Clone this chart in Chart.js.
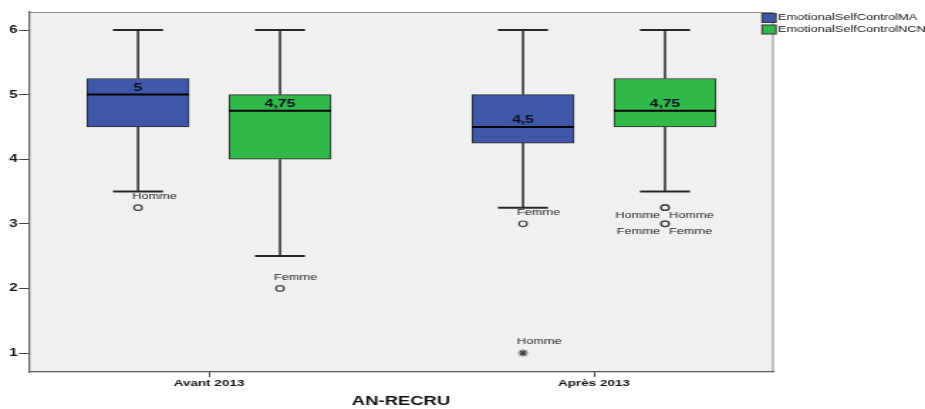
<!DOCTYPE html>
<html>
<head>
<meta charset="utf-8">
<script src="https://cdn.jsdelivr.net/npm/chart.js@4"></script>
<style>
  html, body { margin: 0; padding: 0; background: #fff; overflow: hidden; }
  /* the reference is stretched sideways, so draw narrow and stretch the canvas */
  #wrap { width: 651px; height: 409px; transform: scaleX(1.420891); transform-origin: 0 0; }
</style>
</head>
<body>
<div id="wrap"><canvas id="chart"></canvas></div>
<script>
var categories = ['Avant 2013', 'Après 2013'];
var seriesNames = ['EmotionalSelfControlMA', 'EmotionalSelfControlNCN'];
var yTicks = [1, 2, 3, 4, 5, 6];

var maMin = [3.5, 3.25];
var maQ1 = [4.5, 4.25];
var maMedian = [5, 4.5];
var maQ3 = [5.25, 5];
var maMax = [6, 6];

var ncnMin = [2.5, 3.5];
var ncnQ1 = [4, 4.5];
var ncnMedian = [4.75, 4.75];
var ncnQ3 = [5, 5.25];
var ncnMax = [6, 6];

var maOutlierCat = [0, 1, 1];
var maOutlierValue = [3.25, 3, 1];
var maOutlierLabel = ['Homme', 'Femme', 'Homme'];
var maOutlierExtreme = [false, false, true];

var ncnOutlierCat = [0, 1, 1, 1, 1];
var ncnOutlierValue = [2, 3.25, 3.25, 3, 3];
var ncnOutlierLabel = ['Femme', 'Homme', 'Homme', 'Femme', 'Femme'];
var ncnOutlierExtreme = [false, false, false, false, false];

var S = 925 / 651;
var colors = ['#3e57a8', '#31b84b'];
var offsets = [-0.1844, 0.1844];
var fontFamily = "'Liberation Sans', Arial, sans-serif";

var boxes = [
  { min: maMin, q1: maQ1, med: maMedian, q3: maQ3, max: maMax },
  { min: ncnMin, q1: ncnQ1, med: ncnMedian, q3: ncnQ3, max: ncnMax }
];
var outliers = [
  { cat: maOutlierCat, value: maOutlierValue, label: maOutlierLabel, extreme: maOutlierExtreme },
  { cat: ncnOutlierCat, value: ncnOutlierValue, label: ncnOutlierLabel, extreme: ncnOutlierExtreme }
];

var datasets = [];
boxes.forEach(function(b, s) {
  datasets.push({
    type: 'bar',
    label: seriesNames[s],
    data: categories.map(function(c, i) { return { x: i + offsets[s], y: [b.q1[i], b.q3[i]] }; }),
    backgroundColor: colors[s],
    borderColor: '#2b2b2b',
    borderWidth: 1,
    borderSkipped: false,
    barThickness: 102 / S,
    grouped: false,
    order: 2
  });
});
outliers.forEach(function(o, s) {
  datasets.push({
    type: 'scatter',
    label: seriesNames[s] + ' outliers',
    data: o.cat.map(function(c, i) { return { x: c + offsets[s], y: o.value[i] }; }),
    pointStyle: o.extreme.map(function(e) { return e ? 'star' : 'circle'; }),
    pointRadius: o.extreme.map(function(e) { return e ? 3.5 : 2.8; }),
    borderColor: '#444',
    backgroundColor: 'rgba(0,0,0,0)',
    borderWidth: 1.2,
    order: 1
  });
});

function line(ctx, x1, y1, x2, y2) {
  ctx.beginPath();
  ctx.moveTo(x1, y1);
  ctx.lineTo(x2, y2);
  ctx.stroke();
}

var boxPlotParts = {
  id: 'boxPlotParts',
  beforeDraw: function(chart) {
    var ctx = chart.ctx, a = chart.chartArea;
    ctx.save();
    ctx.fillStyle = '#f0f0f0';
    ctx.fillRect(a.left, a.top, a.right - a.left, a.bottom - a.top);
    ctx.strokeStyle = '#8c8c8c';
    ctx.lineWidth = 1;
    line(ctx, a.left, a.top + 0.5, a.right, a.top + 0.5);
    line(ctx, a.right, a.top, a.right, a.bottom);
    ctx.restore();
  },
  beforeDatasetsDraw: function(chart) {
    var ctx = chart.ctx, x = chart.scales.x, y = chart.scales.y;
    var half = 25 / S;
    ctx.save();
    ctx.strokeStyle = '#262626';
    boxes.forEach(function(b, s) {
      categories.forEach(function(c, i) {
        var cx = x.getPixelForValue(i + offsets[s]);
        var yMax = y.getPixelForValue(b.max[i]), yMin = y.getPixelForValue(b.min[i]);
        ctx.lineWidth = 1.5;
        line(ctx, cx, y.getPixelForValue(b.q3[i]), cx, yMax);
        line(ctx, cx, y.getPixelForValue(b.q1[i]), cx, yMin);
        ctx.lineWidth = 2;
        line(ctx, cx - half, yMax, cx + half, yMax);
        line(ctx, cx - half, yMin, cx + half, yMin);
      });
    });
    ctx.restore();
  },
  afterDatasetsDraw: function(chart) {
    var ctx = chart.ctx, x = chart.scales.x, y = chart.scales.y;
    var half = 51 / S;
    ctx.save();
    // medians
    boxes.forEach(function(b, s) {
      categories.forEach(function(c, i) {
        var cx = x.getPixelForValue(i + offsets[s]);
        var ym = y.getPixelForValue(b.med[i]);
        ctx.strokeStyle = '#000';
        ctx.lineWidth = 2;
        line(ctx, cx - half, ym, cx + half, ym);
        ctx.fillStyle = '#0d0d1a';
        ctx.font = 'bold 11px ' + fontFamily;
        ctx.textAlign = 'center';
        ctx.textBaseline = 'middle';
        ctx.fillText(String(b.med[i]).replace('.', ','), cx, ym - 7);
      });
    });
    // outlier labels
    ctx.font = '9px ' + fontFamily;
    ctx.fillStyle = '#1e1e1e';
    ctx.textBaseline = 'middle';
    outliers.forEach(function(o, s) {
      var seen = {};
      o.cat.forEach(function(c, i) {
        var key = c + '_' + o.value[i];
        var n = o.cat.filter(function(cc, j) { return cc === c && o.value[j] === o.value[i]; }).length;
        var k = seen[key] || 0;
        seen[key] = k + 1;
        var px = x.getPixelForValue(c + offsets[s]);
        var py = y.getPixelForValue(o.value[i]);
        if (n === 1) {
          ctx.textAlign = 'left';
          ctx.fillText(o.label[i], px - 6 / S, py - 11);
        } else if (k === 0) {
          ctx.textAlign = 'right';
          ctx.fillText(o.label[i], px - 5 / S, py + 8);
        } else {
          ctx.textAlign = 'left';
          ctx.fillText(o.label[i], px + 4 / S, py + 8);
        }
      });
    });
    ctx.restore();
  },
  afterDraw: function(chart) {
    var ctx = chart.ctx;
    ctx.save();
    seriesNames.forEach(function(name, s) {
      var x0 = 762 / S, y0 = 13.5 + s * 11.5;
      ctx.fillStyle = colors[s];
      ctx.fillRect(x0, y0, 14 / S, 9);
      ctx.strokeStyle = '#333';
      ctx.lineWidth = 1;
      ctx.strokeRect(x0, y0, 14 / S, 9);
      ctx.fillStyle = '#111';
      ctx.font = '9px ' + fontFamily;
      ctx.textAlign = 'left';
      ctx.textBaseline = 'middle';
      ctx.fillText(name, 778 / S, y0 + 4.5);
    });
    ctx.restore();
  }
};

new Chart(document.getElementById('chart'), {
  type: 'bar',
  data: { datasets: datasets },
  options: {
    responsive: true,
    maintainAspectRatio: false,
    animation: false,
    events: [],
    layout: { padding: { left: 0, top: 12, right: 651 - 773 / S, bottom: 0 } },
    plugins: { legend: { display: false }, tooltip: { enabled: false } },
    scales: {
      x: {
        type: 'linear',
        min: -0.4675,
        max: 1.4649,
        offset: false,
        afterBuildTicks: function(scale) { scale.ticks = categories.map(function(c, i) { return { value: i }; }); },
        afterFit: function(scale) { scale.height = 37; },
        ticks: {
          callback: function(v) { return categories[v]; },
          font: { family: fontFamily, size: 9.5, weight: 'bold' },
          color: '#111',
          padding: 1,
          maxRotation: 0,
          autoSkip: false
        },
        grid: { drawOnChartArea: false, offset: false, tickLength: 5, color: '#444' },
        border: { display: true, color: '#5a5a5a', width: 1.2 },
        title: {
          display: true,
          text: 'AN-RECRU',
          font: { family: fontFamily, size: 13, weight: 'bold' },
          color: '#111',
          padding: { top: 0, bottom: 0 }
        }
      },
      y: {
        min: 0.706,
        max: 6.279,
        afterBuildTicks: function(scale) { scale.ticks = yTicks.map(function(v) { return { value: v }; }); },
        afterFit: function(scale) { scale.width = 29 / S; },
        ticks: {
          font: { family: fontFamily, size: 10.5, weight: 'bold' },
          color: '#111',
          padding: 1
        },
        grid: { drawOnChartArea: false, tickLength: 10 / S, color: '#444' },
        border: { display: true, color: '#5a5a5a', width: 1.2 }
      }
    }
  },
  plugins: [boxPlotParts]
});
</script>
</body>
</html>
